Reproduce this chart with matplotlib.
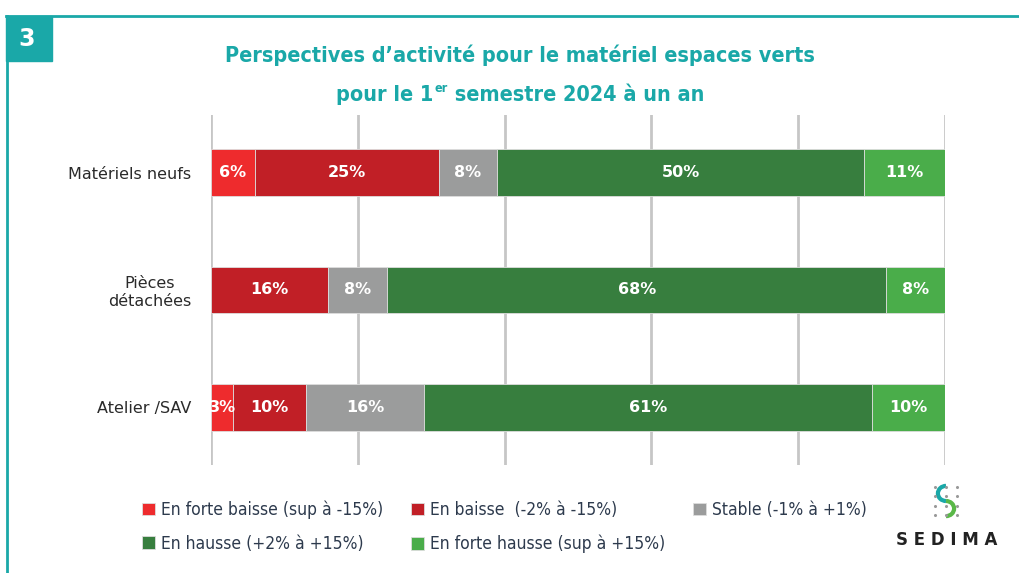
import matplotlib.pyplot as plt
from matplotlib.patches import Rectangle, Arc
from matplotlib import font_manager
import numpy as np

plt.rcParams['font.family'] = ['DejaVu Sans']

# data
categories = ['Matériels neufs', 'Pièces\ndétachées', 'Atelier /SAV']
series = ['En forte baisse (sup à -15%)', 'En baisse  (-2% à -15%)', 'Stable (-1% à +1%)',
          'En hausse (+2% à +15%)', 'En forte hausse (sup à +15%)']
forte_baisse = [6, 0, 3]
baisse = [25, 16, 10]
stable = [8, 8, 16]
hausse = [50, 68, 61]
forte_hausse = [11, 8, 10]
colors = ['#ee2b2d', '#c11f26', '#9b9c9c', '#377e3e', '#4aad4a']

teal = '#1aa8a8'
values = [forte_baisse, baisse, stable, hausse, forte_hausse]

W, H = 1020, 573
fig = plt.figure(figsize=(10.2, 5.73), dpi=100)

# frame + badge
fig.add_artist(plt.Line2D([6/W, 1], [1-16/H, 1-16/H], color=teal, lw=2))
fig.add_artist(plt.Line2D([7/W, 7/W], [0, 1-16/H], color=teal, lw=2))
fig.add_artist(Rectangle((6/W, 1-61/H), 46/W, 45/H, color=teal, transform=fig.transFigure))
fig.text(27/W, 1-39/H, '3', color='white', fontsize=17, fontweight='bold',
         ha='center', va='center')

# title
tsize = 15.5
fig.text(520/W, 1-55/H, 'Perspectives d\u2019activité pour le matériel espaces verts',
         color=teal, fontsize=tsize, fontweight='bold', ha='center', va='center',
         fontstretch='condensed')
t1 = fig.text(0, 1-95/H, 'pour le 1', color=teal, fontsize=tsize, fontweight='bold',
              ha='left', va='center', fontstretch='condensed')
t2 = fig.text(0, 1-88/H, 'er', color=teal, fontsize=9, fontweight='bold',
              ha='left', va='center', fontstretch='condensed')
t3 = fig.text(0, 1-95/H, ' semestre 2024 à un an', color=teal, fontsize=tsize,
              fontweight='bold', ha='left', va='center', fontstretch='condensed')
fig.canvas.draw()
w1 = t1.get_window_extent().width
w2 = t2.get_window_extent().width
w3 = t3.get_window_extent().width
x0 = 520 - (w1 + w2 + w3 + 1) / 2
t1.set_x(x0 / W)
t2.set_x((x0 + w1 + 1) / W)
t3.set_x((x0 + w1 + 1 + w2) / W)

ax = fig.add_axes([211/W, 1-465/H, (945-211)/W, 350/H])
y = np.arange(len(categories))
left = np.zeros(len(categories))
for name, vals, c in zip(series, values, colors):
    vals = np.array(vals, dtype=float)
    ax.barh(y, vals, left=left, height=0.4, color=c, label=name,
            edgecolor='#dddddd', linewidth=0.6, zorder=3)
    for yi, v, l in zip(y, vals, left):
        if v > 0:
            ax.text(l + v/2, yi, '%d%%' % v, color='white', fontsize=11.5,
                    fontweight='bold', ha='center', va='center', zorder=4)
    left += vals

ax.set_xlim(0, 100)
ax.set_ylim(2.49, -0.49)
ax.set_xticks([0, 20, 40, 60, 80, 100])
ax.xaxis.grid(True, color='#c6c6c6', lw=2, zorder=0)
ax.tick_params(axis='x', length=0, labelbottom=False)
ax.set_yticks(y)
ax.set_yticklabels(categories, fontsize=11.5, color='#2a2a2a', multialignment='center')
ax.tick_params(axis='y', length=0, pad=14)
for s in ax.spines.values():
    s.set_visible(False)

handles, labels = ax.get_legend_handles_labels()
order = [0, 3, 1, 4, 2]
fig.legend([handles[i] for i in order], [labels[i] for i in order], ncol=3, loc='upper left',
           bbox_to_anchor=(126/W, 1-485/H),
           frameon=False, handlelength=0.75, handleheight=0.75,
           handletextpad=0.35, columnspacing=1.6, labelspacing=0.9,
           labelcolor='#2d3a4d',
           prop=font_manager.FontProperties(family='DejaVu Sans', stretch='condensed', size=12.5))

# SEDIMA logo
lax = fig.add_axes([928/W, 1-521/H, 36/W, 40/H])
lax.set_xlim(-1, 1)
lax.set_ylim(-1.1, 1.1)
lax.set_aspect('equal')
lax.axis('off')
lax.add_patch(Arc((0, 0.42), 0.9, 0.84, theta1=90, theta2=270, color='#1aa8a8', lw=3))
lax.add_patch(Arc((0, -0.42), 0.9, 0.84, theta1=-90, theta2=90, color='#5ab848', lw=3))
for px in [-0.6, 0, 0.6]:
    for py in [-0.8, -0.27, 0.27, 0.8]:
        lax.plot(px, py, 'o', color='#999999', ms=1.2)
fig.text(947/W, 1-540/H, 'S E D I M A', fontsize=12, color='#222222', ha='center',
         va='center', fontweight='bold')

fig.savefig('out.png', dpi=100)
